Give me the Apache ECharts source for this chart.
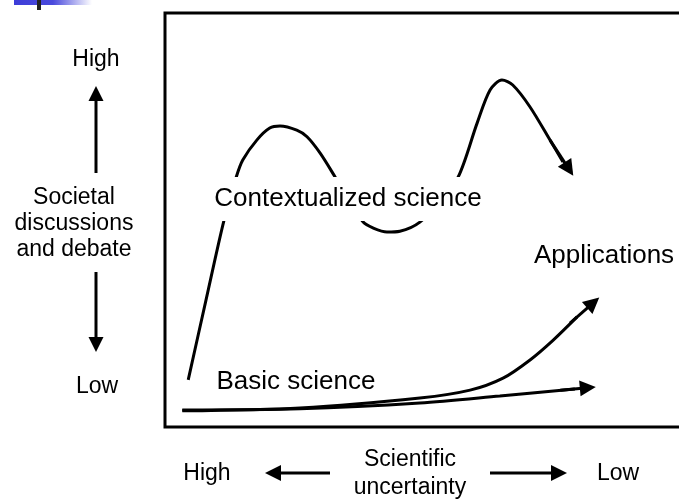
<!DOCTYPE html>
<html>
<head>
<meta charset="utf-8">
<script src="https://cdn.jsdelivr.net/npm/echarts@6/dist/echarts.min.js"></script>
<style>
  html, body { margin: 0; padding: 0; background: #fff; }
  #chart { width: 679px; height: 502px; }
</style>
</head>
<body>
<div id="chart"></div>
<script>
// ===== data (x: scientific uncertainty high -> low, y: societal debate low -> high) =====
const contextX = [4.3, 7.6, 10.9, 13.2, 14.4, 17.0, 19.4, 21.3, 24.4, 26.3, 28.7, 31.5, 34.3, 36.7, 38.5, 41.1, 43.5, 47.2, 50.9, 54.3, 57.8, 60.2, 62.4, 64.4, 67.6, 71.3, 73.7];
const contextY = [11.4, 30.7, 49.8, 60.4, 64.5, 69.3, 72.2, 72.7, 71.7, 70.1, 66.2, 60.4, 54.4, 49.5, 48.1, 47.1, 47.3, 49.5, 54.8, 60.4, 73.4, 81.4, 83.8, 82.6, 77.3, 69.3, 64.0];

const basicX = [3.2, 25.0, 47.2, 62.0, 75.9];
const basicY = [4.1, 4.4, 5.8, 7.5, 9.2];

const applX = [3.2, 25.0, 47.2, 56.5, 62.6, 67.6, 71.9, 76.3];
const applY = [3.9, 4.6, 7.0, 8.9, 11.8, 16.2, 21.0, 26.6];

// arrowhead segments: [fromX, fromY, toX, toY]
const arrowHeads = [
    [71.3, 69.3, 74.8, 62.3],
    [73.2, 8.9, 78.3, 9.5],
    [75.0, 25.1, 79.3, 30.0]
];

const FONT = '"Liberation Sans", Arial, sans-serif';
const zip = (xs, ys) => xs.map((x, i) => [x, ys[i]]);

const chart = echarts.init(document.getElementById('chart'));

function txt(text, x, y, size, extra) {
    return {
        type: 'text', x: x, y: y, z: 100,
        style: Object.assign({
            text: text, fill: '#000', font: size + 'px ' + FONT,
            align: 'center', verticalAlign: 'middle'
        }, extra || {})
    };
}
function seg(x1, y1, x2, y2) {
    return { type: 'line', z: 100, shape: { x1: x1, y1: y1, x2: x2, y2: y2 }, style: { stroke: '#000', lineWidth: 3 } };
}
function tri(points) {
    return { type: 'polygon', z: 100, shape: { points: points }, style: { fill: '#000' } };
}

const lineBase = {
    type: 'line', smooth: 0.3, symbol: 'none', silent: true,
    lineStyle: { color: '#000', width: 3 }
};

chart.setOption({
    animation: false,
    grid: {
        left: 165, top: 13, width: 540, height: 414, outerBoundsMode: 'none',
        show: true, borderColor: '#000', borderWidth: 3, backgroundColor: 'transparent'
    },
    xAxis: { type: 'value', min: 0, max: 100, show: false },
    yAxis: { type: 'value', min: 0, max: 100, show: false },
    series: [
        Object.assign({ data: zip(contextX, contextY) }, lineBase),
        Object.assign({ data: zip(basicX, basicY) }, lineBase),
        Object.assign({ data: zip(applX, applY) }, lineBase),
        {
            type: 'lines', coordinateSystem: 'cartesian2d', silent: true,
            symbol: ['none', 'triangle'], symbolSize: 16,
            lineStyle: { color: '#000', width: 3, opacity: 1 },
            data: arrowHeads.map(a => ({ coords: [[a[0], a[1]], [a[2], a[3]]] }))
        }
    ],
    graphic: [
        // title bar decoration
        { type: 'rect', z: 100, shape: { x: 14, y: 0, width: 78, height: 5 },
          style: { fill: new echarts.graphic.LinearGradient(0, 0, 1, 0, [
              { offset: 0, color: '#3d3dd8' }, { offset: 0.5, color: '#4a4adc' }, { offset: 1, color: '#ffffff' }]) } },
        { type: 'rect', z: 101, shape: { x: 37, y: 0, width: 4, height: 10 }, style: { fill: '#222' } },

        // vertical axis annotation
        txt('High', 96, 60, 23),
        seg(96, 173, 96, 98), tri([[96, 86], [88.5, 101], [103.5, 101]]),
        txt('Societal\ndiscussions\nand debate', 74, 224, 23, { lineHeight: 26 }),
        seg(96, 272, 96, 340), tri([[96, 352], [88.5, 337], [103.5, 337]]),
        txt('Low', 97, 387, 23),

        // horizontal axis annotation
        txt('High', 207, 474, 23),
        seg(330, 473, 278, 473), tri([[265, 473], [281, 465], [281, 481]]),
        txt('Scientific\nuncertainty', 410, 474, 23, { lineHeight: 28 }),
        seg(490, 473, 555, 473), tri([[567, 473], [551, 465], [551, 481]]),
        txt('Low', 618, 474, 23),

        // curve labels
        txt('Contextualized science', 348, 199, 26, { backgroundColor: '#fff', padding: [9, 4] }),
        txt('Applications', 604, 256, 26),
        txt('Basic science', 296, 382, 26)
    ]
});
</script>
</body>
</html>
